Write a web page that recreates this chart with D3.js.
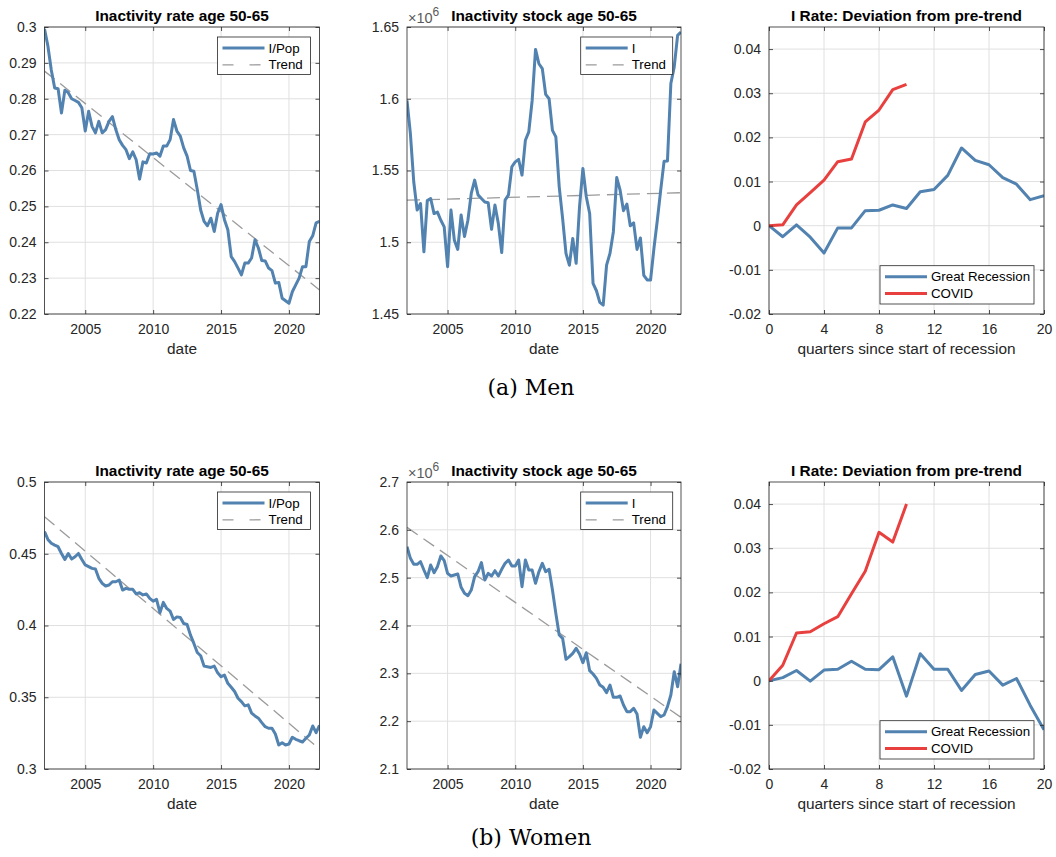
<!DOCTYPE html>
<html><head><meta charset="utf-8">
<script src="https://cdn.jsdelivr.net/npm/d3@7"></script>
<style>body{margin:0;background:#fff}svg{display:block}</style>
</head><body><svg id="c" width="1056" height="857"></svg>
<script>
// ---------- data ----------
const startYear = 2002;           // first quarter 2002Q1
const endYear = 2022.25;          // last quarter 2022Q2
const menRate = [0.2995,0.2947,0.288,0.283,0.2828,0.276,0.2824,0.2817,0.280,0.2795,
0.279,0.2775,0.271,0.2765,0.2723,0.2705,0.2737,0.2705,0.2714,0.2737,
0.275,0.2714,0.2686,0.267,0.2658,0.2633,0.2652,0.263,0.2576,0.2624,
0.2621,0.2647,0.2646,0.2649,0.264,0.2668,0.2668,0.2686,0.2742,0.271,
0.2696,0.2663,0.264,0.260,0.2598,0.2547,0.249,0.2458,0.2446,0.2467,
0.243,0.2481,0.2505,0.2463,0.2435,0.236,0.2346,0.2328,0.2309,0.2342,
0.2342,0.2356,0.2407,0.2384,0.2349,0.2348,0.2328,0.2321,0.2286,0.2288,
0.2244,0.2237,0.223,0.2262,0.2281,0.23,0.2332,0.2332,0.2402,0.2418,
0.2454,0.2458];
const menRateTrend = [0.2877, 0.2267];
const menStock = [1.5988,1.5757,1.542,1.5224,1.527,1.4933,1.529,1.5305,1.52,1.521,
1.5153,1.5107,1.483,1.5224,1.5014,1.495,1.519,1.504,1.5153,1.534,
1.5433,1.533,1.5305,1.528,1.5275,1.509,1.526,1.513,1.4928,1.5294,
1.533,1.5526,1.556,1.5577,1.5468,1.5711,1.5769,1.5988,1.6344,1.6244,
1.621,1.603,1.600,1.578,1.5734,1.5386,1.5166,1.4922,1.484,1.5026,
1.4853,1.5247,1.5514,1.5317,1.520,1.4713,1.4662,1.4581,1.4562,1.484,
1.4922,1.5072,1.5451,1.5363,1.522,1.5266,1.5115,1.5135,1.495,1.503,
1.477,1.4737,1.4737,1.4957,1.5153,1.5363,1.5565,1.5567,1.6106,1.6222,
1.6442,1.6465];
const menStockTrend = [1.5293, 1.5345];
const womenRate = [0.4654,0.46,0.4573,0.456,0.4549,0.4502,0.446,0.4502,0.4463,0.4479,
0.4502,0.446,0.4422,0.441,0.4398,0.4394,0.4329,0.4294,0.4275,0.4282,
0.4305,0.4305,0.4317,0.4247,0.4259,0.4252,0.4252,0.422,0.4229,0.4213,
0.422,0.4189,0.417,0.4182,0.4089,0.4161,0.4119,0.41,0.4042,0.406,
0.4056,0.4014,0.4007,0.3933,0.3875,0.3812,0.3789,0.3717,0.3712,0.3708,
0.3717,0.367,0.3643,0.3654,0.3597,0.357,0.354,0.3493,0.347,0.344,
0.3447,0.3389,0.337,0.3354,0.3323,0.3295,0.3284,0.3284,0.3244,0.3167,
0.3183,0.3167,0.3174,0.3221,0.3207,0.3197,0.3188,0.3214,0.3237,0.33,
0.3253,0.3304];
const womenRateTrend = [0.4758, 0.3139];
const womenStock = [2.5648,2.5404,2.5279,2.5279,2.5334,2.516,2.5,2.5265,2.5105,2.523,
2.5453,2.5355,2.509,2.5035,2.5056,2.5077,2.4798,2.4672,2.4624,2.4742,
2.5021,2.5125,2.5314,2.4951,2.509,2.5035,2.5146,2.5035,2.5174,2.53,
2.5369,2.5244,2.5244,2.5369,2.4812,2.5369,2.516,2.516,2.4882,2.5125,
2.53,2.5125,2.5174,2.4742,2.4254,2.3801,2.3732,2.3293,2.3348,2.3418,
2.3523,2.3404,2.3223,2.3432,2.3056,2.2986,2.2895,2.2756,2.2707,2.2596,
2.2756,2.2498,2.2498,2.2526,2.2338,2.2199,2.2199,2.2268,2.215,2.1662,
2.1885,2.176,2.1885,2.2233,2.2164,2.2094,2.2129,2.2303,2.2547,2.3035,
2.2721,2.32];
const womenStockTrend = [2.6052, 2.208];
const quarters = [0,1,2,3,4,5,6,7,8,9,10,11,12,13,14,15,16,17,18,19,20];
const menGR = [0,-0.0025,0.0002,-0.0026,-0.0062,-0.0005,-0.0005,0.0034,0.0035,0.0047,0.0039,0.0077,0.0082,0.0114,0.0176,0.0148,0.0138,0.0109,0.0094,0.0059,0.0068];
const menCOVID = [0,0.0002,0.0047,0.0075,0.0103,0.0145,0.0151,0.0235,0.0262,0.0308,0.032];
const womenGR = [0,0.0007,0.0023,-0.0001,0.0024,0.0026,0.0044,0.0026,0.0025,0.0054,-0.0035,0.0061,0.0026,0.0026,-0.0022,0.0014,0.0022,-0.001,0.0005,-0.0056,-0.0111];
const womenCOVID = [0,0.0035,0.0108,0.0111,0.0129,0.0145,0.0197,0.0248,0.0336,0.0314,0.040];
const yearTicks = [2005,2010,2015,2020];
const quarterTicks = [0,4,8,12,16,20];
const menRateTicks = [0.22,0.23,0.24,0.25,0.26,0.27,0.28,0.29,0.3];
const menStockTicks = [1.45,1.5,1.55,1.6,1.65];
const womenRateTicks = [0.3,0.35,0.4,0.45,0.5];
const womenStockTicks = [2.1,2.2,2.3,2.4,2.5,2.6,2.7];
const devTicks = [-0.02,-0.01,0,0.01,0.02,0.03,0.04];
const subcaptions = ["(a) Men", "(b) Women"];

// ---------- styles ----------
const BLUE = "#5182b0", RED = "#e8403e", TREND = "#9b9b9b", AX = "#262626", GRID = "#e0e0e0";
const FONT = "'Liberation Sans', Arial, Helvetica, sans-serif";
const DASH = "13,7";
const svg = d3.select("#c");
const dates = menRate.map((_, i) => startYear + i / 4);
let clipId = 0;

function panel(o) {
  const x = d3.scaleLinear().domain(o.xDomain).range([o.left, o.right]);
  const y = d3.scaleLinear().domain(o.yDomain).range([o.bottom, o.top]);
  const g = svg.append("g");
  const fmt = d => String(+d.toFixed(4));
  // grid
  g.append("g").selectAll("line").data(o.xTicks).join("line")
    .attr("x1", d => x(d)).attr("x2", d => x(d)).attr("y1", o.top).attr("y2", o.bottom)
    .attr("stroke", GRID).attr("stroke-width", 1);
  g.append("g").selectAll("line").data(o.yTicks).join("line")
    .attr("y1", d => y(d)).attr("y2", d => y(d)).attr("x1", o.left).attr("x2", o.right)
    .attr("stroke", GRID).attr("stroke-width", 1);
  // clip
  const cid = "clip" + (clipId++);
  svg.append("clipPath").attr("id", cid).append("rect")
    .attr("x", o.left).attr("y", o.top).attr("width", o.right - o.left).attr("height", o.bottom - o.top);
  const lines = g.append("g").attr("clip-path", `url(#${cid})`);
  o.series.forEach(s => {
    const line = d3.line().x((d, i) => x(s.x[i])).y(d => y(d));
    lines.append("path").datum(s.y).attr("d", line).attr("fill", "none")
      .attr("stroke", s.color).attr("stroke-width", s.width)
      .attr("stroke-dasharray", s.dash || null).attr("stroke-linejoin", "round");
  });
  // axes (inward ticks all around)
  const tl = 4;
  const axB = d3.axisBottom(x).tickValues(o.xTicks).tickSize(-tl).tickPadding(10).tickFormat(fmt);
  const axT = d3.axisTop(x).tickValues(o.xTicks).tickSize(-tl).tickFormat("");
  const axL = d3.axisLeft(y).tickValues(o.yTicks).tickSize(-tl).tickPadding(8).tickFormat(fmt);
  const axR = d3.axisRight(y).tickValues(o.yTicks).tickSize(-tl).tickFormat("");
  const style = sel => {
    sel.select(".domain").remove();
    sel.selectAll("line").attr("stroke", AX).attr("stroke-width", 0.8);
    sel.selectAll("text").attr("fill", AX).style("font-family", FONT).style("font-size", "14px");
  };
  g.append("g").attr("transform", `translate(0,${o.bottom})`).call(axB).call(style);
  g.append("g").attr("transform", `translate(0,${o.top})`).call(axT).call(style);
  g.append("g").attr("transform", `translate(${o.left},0)`).call(axL).call(style);
  g.append("g").attr("transform", `translate(${o.right},0)`).call(axR).call(style);
  g.append("rect").attr("x", o.left).attr("y", o.top).attr("width", o.right - o.left)
    .attr("height", o.bottom - o.top).attr("fill", "none").attr("stroke", AX).attr("stroke-width", 0.8);
  // title
  g.append("text").attr("x", (o.left + o.right) / 2).attr("y", o.top - 6.5)
    .attr("text-anchor", "middle").style("font-family", FONT).style("font-size", "15.4px")
    .style("font-weight", "bold").attr("fill", "#000").text(o.title);
  // xlabel
  g.append("text").attr("x", (o.left + o.right) / 2).attr("y", o.bottom + 40)
    .attr("text-anchor", "middle").style("font-family", FONT).style("font-size", "15.4px")
    .attr("fill", AX).text(o.xlabel);
  // exponent
  if (o.exponent) {
    const t = g.append("text").attr("x", o.left + 1).attr("y", o.top - 4.5)
      .style("font-family", FONT).style("font-size", "14.5px").attr("fill", "#5a5a5a");
    t.append("tspan").text("\u00d710");
    t.append("tspan").attr("dy", -7).style("font-size", "12px").text(o.exponent);
  }
  // legend
  const L = o.legend;
  const lg = g.append("g");
  lg.append("rect").attr("x", L.x).attr("y", L.y).attr("width", L.w).attr("height", L.h)
    .attr("fill", "#fff").attr("stroke", AX).attr("stroke-width", 0.8);
  L.items.forEach((it, i) => {
    const cy = L.y + 11 + i * 16.8;
    lg.append("line").attr("x1", L.x + 5).attr("x2", L.x + 47).attr("y1", cy).attr("y2", cy)
      .attr("stroke", it.color).attr("stroke-width", it.width).attr("stroke-dasharray", it.dash || null);
    lg.append("text").attr("x", L.x + 51).attr("y", cy).attr("dy", "0.35em")
      .style("font-family", FONT).style("font-size", "13.3px").attr("fill", "#000").text(it.label);
  });
}

const cols = [[44.5, 319.5], [407, 681], [769, 1044]];
const rows = [[27, 314], [482, 769]];
const trendDates = [startYear, endYear];
const rowData = [
  {rate: menRate, rateTrend: menRateTrend, rateTicks: menRateTicks, rateDom: [0.22, 0.3],
   stock: menStock, stockTrend: menStockTrend, stockTicks: menStockTicks, stockDom: [1.45, 1.65],
   gr: menGR, cov: menCOVID, legY3: 265.7},
  {rate: womenRate, rateTrend: womenRateTrend, rateTicks: womenRateTicks, rateDom: [0.3, 0.5],
   stock: womenStock, stockTrend: womenStockTrend, stockTicks: womenStockTicks, stockDom: [2.1, 2.7],
   gr: womenGR, cov: womenCOVID, legY3: 720.7}
];

rowData.forEach((r, ri) => {
  const [top, bottom] = rows[ri];
  panel({left: cols[0][0], right: cols[0][1], top, bottom,
    xDomain: [startYear, endYear], yDomain: r.rateDom, xTicks: yearTicks, yTicks: r.rateTicks,
    title: "Inactivity rate age 50-65", xlabel: "date",
    series: [
      {x: trendDates, y: r.rateTrend, color: TREND, width: 1.3, dash: DASH},
      {x: dates, y: r.rate, color: BLUE, width: 3}
    ],
    legend: {x: 217.5, y: top + 10, w: 93, h: 37.5, items: [
      {label: "I/Pop", color: BLUE, width: 3}, {label: "Trend", color: TREND, width: 1.3, dash: "11,16"}]}
  });
  panel({left: cols[1][0], right: cols[1][1], top, bottom,
    xDomain: [startYear, endYear], yDomain: r.stockDom, xTicks: yearTicks, yTicks: r.stockTicks,
    title: "Inactivity stock age 50-65", xlabel: "date", exponent: "6",
    series: [
      {x: trendDates, y: r.stockTrend, color: TREND, width: 1.3, dash: DASH},
      {x: dates, y: r.stock, color: BLUE, width: 3}
    ],
    legend: {x: 580.7, y: top + 10, w: 92, h: 37.5, items: [
      {label: "I", color: BLUE, width: 3}, {label: "Trend", color: TREND, width: 1.3, dash: "11,16"}]}
  });
  panel({left: cols[2][0], right: cols[2][1], top, bottom,
    xDomain: [0, 20], yDomain: [-0.02, 0.045], xTicks: quarterTicks, yTicks: devTicks,
    title: "I Rate: Deviation from pre-trend", xlabel: "quarters since start of recession",
    series: [
      {x: quarters, y: r.gr, color: BLUE, width: 3},
      {x: quarters, y: r.cov, color: RED, width: 3}
    ],
    legend: {x: 880, y: r.legY3, w: 154, h: 38.3, items: [
      {label: "Great Recession", color: BLUE, width: 3}, {label: "COVID", color: RED, width: 3}]}
  });
  svg.append("text").attr("x", 531).attr("y", ri === 0 ? 395 : 845).attr("text-anchor", "middle")
    .style("font-family", "'DejaVu Serif', serif").style("font-size", "22px").attr("fill", "#000")
    .text(subcaptions[ri]);
});
</script></body></html>
